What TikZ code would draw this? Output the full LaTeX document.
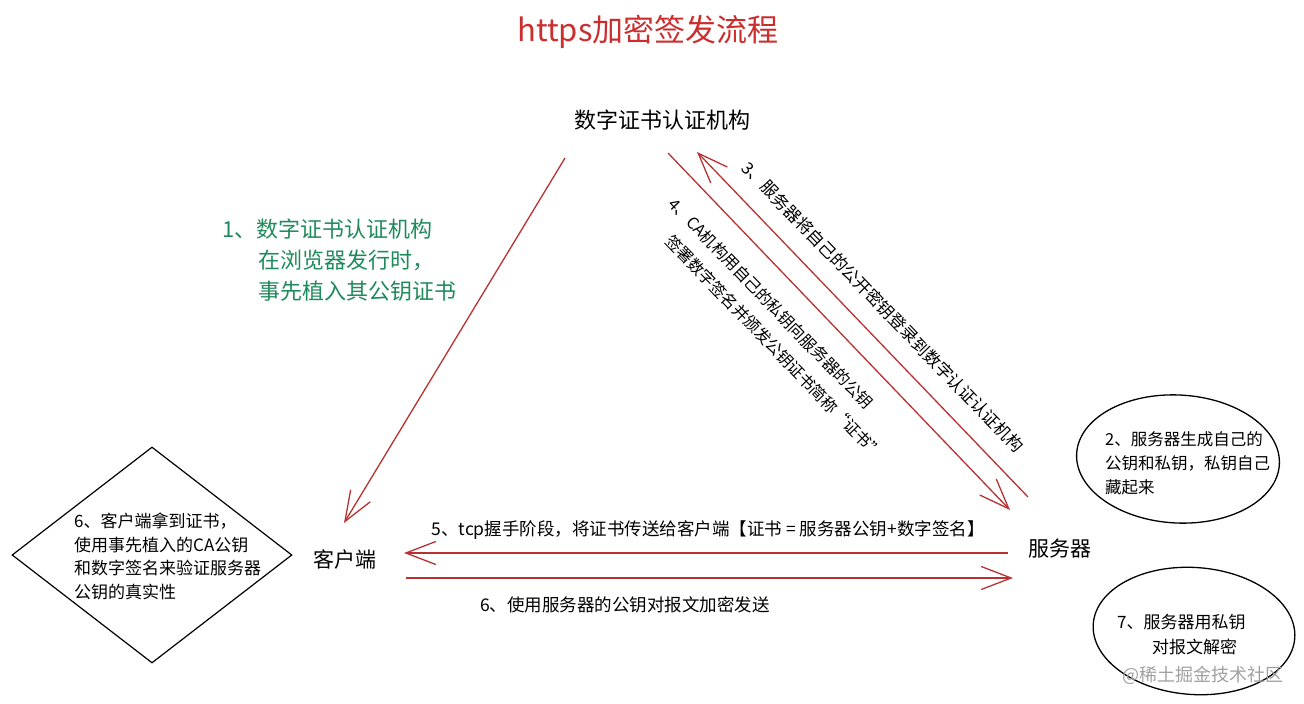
\documentclass[tikz,border=0pt]{standalone}
\usepackage{fontspec}
\setmainfont{Noto Sans CJK SC}
\usetikzlibrary{arrows.meta,shapes.geometric}
\definecolor{titlered}{HTML}{CC2E2E}
\definecolor{arrowred}{HTML}{B83232}
\definecolor{notegreen}{HTML}{1F8A5B}
\definecolor{markgray}{HTML}{A0A0A0}
\begin{document}
\begin{tikzpicture}[x=1pt,y=-1pt,
  flow/.style={arrowred,line width=1.3pt,-{Straight Barb[length=30pt,width=23pt]}},
  party/.style={inner sep=0pt,font=\fontsize{21}{25}\selectfont},
  label/.style={inner sep=0pt,font=\fontsize{17.5}{21}\selectfont},
  slant/.style={inner sep=0pt,rotate=-46,font=\fontsize{16}{28}\selectfont},
  note/.style={inner sep=0pt,align=left,anchor=north west},
  bubble/.style={draw,ellipse,line width=1.3pt,inner sep=0pt}]
\useasboundingbox (0,0) rectangle (1304,704);
% title
\node[inner sep=0pt,text=titlered,font=\fontsize{31}{34}\selectfont] (title) at (648,32) {https加密签发流程};
% the three parties
\node[party,font=\fontsize{22}{26}\selectfont] (ca) at (662,120) {数字证书认证机构};
\node[party] (client) at (345,559) {客户端};
\node[party] (server) at (1060,549) {服务器};
% free ends of the arrows
\coordinate (caL) at (565,158);
\coordinate (clientT) at (344,523);
\coordinate (caR1) at (697,152);
\coordinate (caR2) at (668,153);
\coordinate (serverT1) at (1028,497);
\coordinate (serverT2) at (1010,510);
\coordinate (serverL1) at (1008,553);
\coordinate (serverL2) at (1013,578);
\coordinate (clientR1) at (404,553);
\coordinate (clientR2) at (406,578);
% step 1
\node[note,text=notegreen,font=\fontsize{22}{31}\selectfont] (step1) at (222,219)
  {1、数字证书认证机构\\\hspace*{36pt}在浏览器发行时，\\\hspace*{36pt}事先植入其公钥证书};
\draw[flow] (caL) -- (clientT);
% steps 3 and 4
\draw[flow] (serverT1) -- (caR1);
\draw[flow] (caR2) -- (serverT2);
\node[slant,font=\fontsize{16.8}{20}\selectfont] (step3) at (883,307) {3、服务器将自己的公开密钥登录到数字认证认证机构};
\node[slant,align=left] (step4) at (776,329)
  {4、CA机构用自己的私钥向服务器的公钥\\\hspace*{24pt}签署数字签名并颁发公钥证书简称“证书”};
% steps 5 and 6
\draw[flow] (serverL1) -- (clientR1);
\draw[flow] (clientR2) -- (serverL2);
\node[label] (step5) at (708,530) {5、tcp握手阶段，将证书传送给客户端【证书 = 服务器公钥+数字签名】};
\node[label] (step6) at (625,605) {6、使用服务器的公钥对报文加密发送};
% client check
\node[draw,diamond,line width=1.2pt,inner sep=0pt,minimum width=280pt,minimum height=216pt] (check) at (152,555) {};
\node[note,font=\fontsize{17}{23.5}\selectfont] (checktext) at (74,513)
  {6、客户端拿到证书，\\使用事先植入的CA公钥\\和数字签名来验证服务器\\公钥的真实性};
% server notes
\node[bubble,minimum width=203pt,minimum height=128pt,rotate=-3] (keygen) at (1178,459) {};
\node[note,font=\fontsize{16.5}{24}\selectfont] (keygentext) at (1105,431)
  {2、服务器生成自己的\\公钥和私钥，私钥自己\\藏起来};
\node[bubble,minimum width=202pt,minimum height=127pt,rotate=-4] (decrypt) at (1194,631) {};
\node[note,font=\fontsize{17}{25}\selectfont] (decrypttext) at (1117,614)
  {7、服务器用私钥\\\hspace*{35pt}对报文解密};
\node[inner sep=0pt,text=markgray,font=\fontsize{18}{22}\selectfont] (mark) at (1203,675) {@稀土掘金技术社区};
\end{tikzpicture}
\end{document}
